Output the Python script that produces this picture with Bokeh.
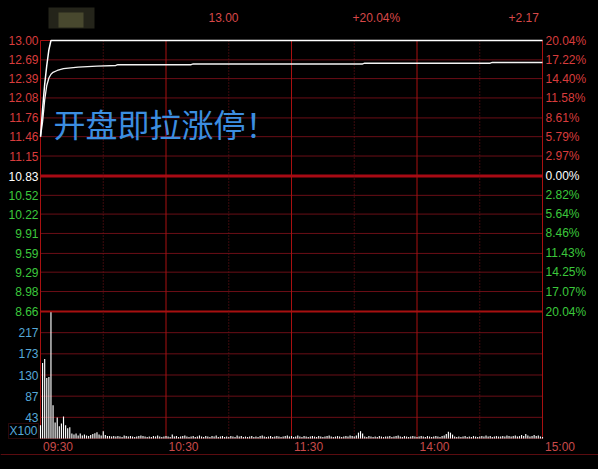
from bokeh.plotting import figure
from bokeh.models import Range1d, Span, BoxAnnotation, ColumnDataSource
from bokeh.core.properties import value
from bokeh.embed import file_html
from bokeh.resources import INLINE

# ---------------- data ----------------
prev_close = 10.83
price_ticks = [13.00, 12.69, 12.39, 12.08, 11.76, 11.46, 11.15, 10.83,
               10.52, 10.22, 9.91, 9.59, 9.29, 8.98, 8.66]
price_labels = ["13.00", "12.69", "12.39", "12.08", "11.76", "11.46", "11.15", "10.83",
                "10.52", "10.22", "9.91", "9.59", "9.29", "8.98", "8.66"]
pct_labels = ["20.04%", "17.22%", "14.40%", "11.58%", "8.61%", "5.79%", "2.97%", "0.00%",
              "2.82%", "5.64%", "8.46%", "11.43%", "14.25%", "17.07%", "20.04%"]
vol_ticks = [43.4, 86.8, 130.2, 173.6, 217.0]
vol_labels = ["43", "87", "130", "173", "217"]
vol_top = 260.4
vol_unit = "X100"
time_ticks = [0, 60, 120, 180, 240]
time_labels = ["09:30", "10:30", "11:30", "14:00", "15:00"]
minor_time = [30, 90, 150, 210]

price_min = [0, 1, 2, 3, 4, 5, 240]
price_val = [11.46, 11.90, 12.30, 12.60, 12.85, 13.00, 13.00]
avg_min = [0, 1, 2, 3, 4, 5, 6, 8, 11, 18, 27, 36, 37, 72, 73, 154, 155, 215, 216, 240]
avg_val = [11.46, 11.70, 12.05, 12.28, 12.40, 12.46, 12.49, 12.52, 12.55, 12.575,
           12.59, 12.600, 12.612, 12.612, 12.624, 12.624, 12.636, 12.636, 12.648, 12.648]

volume = [
    27, 155, 163, 124, 126, 259, 68, 33, 43, 25, 31, 45, 27, 21, 23, 10, 8, 10, 6, 10,
    6, 8, 6, 5, 7, 9, 11, 13, 8, 6, 15, 7, 5, 5, 4, 5, 4, 5, 4, 3,
    6, 5, 4, 5, 4, 3, 4, 5, 6, 5, 4, 3, 4, 3, 5, 4, 6, 4, 3, 4,
    5, 4, 3, 8, 4, 5, 3, 4, 5, 6, 4, 3, 4, 5, 3, 4, 6, 4, 3, 5,
    4, 3, 5, 4, 6, 3, 4, 5, 3, 4, 3, 5, 4, 3, 6, 4, 5, 3, 4, 3,
    4, 5, 3, 4, 3, 5, 6, 4, 3, 4, 5, 3, 4, 5, 4, 3, 4, 5, 6, 4,
    5, 3, 4, 6, 4, 3, 5, 4, 3, 4, 5, 4, 3, 5, 4, 3, 4, 5, 6, 4,
    3, 4, 5, 4, 3, 4, 5, 4, 6, 5, 4, 6, 12, 15, 10, 4, 3, 5, 4, 3,
    4, 3, 5, 4, 3, 4, 4, 5, 3, 4, 5, 6, 4, 3, 5, 4, 3, 4, 5, 4,
    3, 4, 5, 4, 3, 5, 4, 3, 4, 5, 4, 3, 5, 6, 9, 14, 12, 8, 4, 3,
    4, 3, 4, 5, 3, 4, 3, 5, 4, 3, 4, 5, 4, 6, 4, 5, 3, 4, 5, 4,
    4, 5, 4, 6, 5, 4, 5, 6, 4, 5, 7, 5, 9, 6, 4, 5, 7, 5, 6, 4, 3,
]
minutes = list(range(len(volume)))

header_texts = ["13.00", "+20.04%", "+2.17"]
caption = "开盘即拉涨停！"

# ---------------- layout (screen pixels of the page) ----------------
W, H = 598, 469
OFF = 0
L, R, T, SEP, B = 40, 542, 40, 311, 438
ppm = (R - L) / 240.0
x_start = -(L - OFF) / ppm
x_end = x_start + W / ppm
ppp = (SEP - T) / (price_ticks[0] - price_ticks[-1])
y_end = price_ticks[0] + (T - OFF) / ppp
y_start = y_end - H / ppp
ppv = (B - SEP) / vol_top
v_start = -(OFF + H - B) / ppv
v_end = v_start + H / ppv


def dx(sx):
    return x_start + (sx - OFF) / ppm


def dy(sy):
    return y_end - (sy - OFF) / ppp


RED_T = "#d83c3c"
GREEN_T = "#3cc83c"
CYAN_T = "#55a8d8"
GRID = "#6a0e16"
GRID_B = "#a81010"
FONT = value("Liberation Sans")

p = figure(width=W, height=H, x_range=Range1d(x_start, x_end), y_range=Range1d(y_start, y_end),
           toolbar_location=None, output_backend="svg", min_border=0,
           x_axis_location=None, y_axis_location=None)
p.extra_y_ranges = {"vol": Range1d(v_start, v_end)}
p.grid.visible = False
p.outline_line_color = None
p.background_fill_color = "black"
p.border_fill_color = "black"

t0, t1 = time_ticks[0], time_ticks[-1]

# horizontal grid lines, price panel
thin = [t for t in price_ticks if t not in (prev_close, price_ticks[0], price_ticks[-1])]
p.segment(x0=[t0] * len(thin), x1=[t1] * len(thin), y0=thin, y1=thin, line_color=GRID, line_width=1)
p.segment(x0=[t0], x1=[t1], y0=[price_ticks[0]], y1=[price_ticks[0]], line_color=GRID_B, line_width=1)
p.segment(x0=[t0], x1=[t1], y0=[prev_close], y1=[prev_close], line_color="#a80a14", line_width=3)
p.segment(x0=[t0], x1=[t1], y0=[price_ticks[-1]], y1=[price_ticks[-1]], line_color=GRID_B, line_width=2)

# horizontal grid lines, volume panel
p.segment(x0=[t0] * len(vol_ticks), x1=[t1] * len(vol_ticks), y0=vol_ticks, y1=vol_ticks,
          line_color=GRID, line_width=1, y_range_name="vol")
p.segment(x0=[t0], x1=[t1], y0=[0], y1=[0], line_color="#4a0a0e", line_width=1, y_range_name="vol")

# vertical lines (span both panels)
solid = [t0] + time_ticks[1:-1] + [t1]
p.segment(x0=solid, x1=solid, y0=[price_ticks[0]] * len(solid), y1=[dy(B)] * len(solid),
          line_color=GRID_B, line_width=1)
p.segment(x0=minor_time, x1=minor_time, y0=[price_ticks[0]] * len(minor_time),
          y1=[dy(B)] * len(minor_time), line_color="#7a1418", line_width=1, line_dash="1 2")

# bottom full-width line
p.add_layout(Span(location=dy(454), dimension="width", line_color="#5a0c10", line_width=1))

# volume bars
p.vbar(x=minutes, top=volume, bottom=0, width=0.55, fill_color="white", line_color=None,
       y_range_name="vol")

# average and price lines
p.line(avg_min, avg_val, line_color="#f4f4f4", line_width=1.3)
p.line(price_min, price_val, line_color="white", line_width=1.5)

# left price labels
lab_cols = [RED_T if v > prev_close else ("#ffffff" if v == prev_close else GREEN_T) for v in price_ticks]
src_l = ColumnDataSource(dict(x=[dx(38)] * len(price_ticks), y=price_ticks, t=price_labels, c=lab_cols))
p.text(x="x", y="y", text="t", text_color="c", source=src_l, text_font=FONT,
       text_font_size="12px", text_align="right", text_baseline="middle")

# right percentage labels
src_r = ColumnDataSource(dict(x=[dx(545)] * len(price_ticks), y=price_ticks, t=pct_labels, c=lab_cols))
p.text(x="x", y="y", text="t", text_color="c", source=src_r, text_font=FONT,
       text_font_size="12px", text_align="left", text_baseline="middle")

# volume labels
src_v = ColumnDataSource(dict(x=[dx(38)] * len(vol_ticks), y=vol_ticks, t=vol_labels))
p.text(x="x", y="y", text="t", text_color=CYAN_T, source=src_v, text_font=FONT,
       text_font_size="12px", text_align="right", text_baseline="middle", y_range_name="vol")
p.add_layout(BoxAnnotation(left=dx(8), right=dx(38), top=dy(423), bottom=dy(438),
                           fill_color=None, line_color="#8a1a20", line_width=1))
p.text(x=[dx(23)], y=[dy(430.5)], text=[vol_unit], text_color=CYAN_T, text_font=FONT,
       text_font_size="12px", text_align="center", text_baseline="middle")

# time labels
p.text(x=[t + 1.2 for t in time_ticks], y=[dy(446)] * len(time_ticks), text=time_labels,
       text_color="#c84a4a", text_font=FONT, text_font_size="12px",
       text_align="left", text_baseline="middle")

# header: blurred name and three values
p.add_layout(BoxAnnotation(left=dx(48), right=dx(94), top=dy(7), bottom=dy(28),
                           fill_color="#24241a", fill_alpha=1, line_color=None))
p.add_layout(BoxAnnotation(left=dx(58), right=dx(83), top=dy(12), bottom=dy(27),
                           fill_color="#48482e", fill_alpha=1, line_color=None))
p.text(x=[dx(208), dx(352), dx(508)], y=[dy(17)] * 3, text=header_texts, text_color="#d84848",
       text_font=FONT, text_font_size="12px", text_align="left", text_baseline="middle")

# caption
p.text(x=[dx(53)], y=[dy(122)], text=[caption], text_color="#3c8ee0",
       text_font=value("Noto Sans CJK SC"), text_font_size="32px",
       text_align="left", text_baseline="middle")

html = file_html(p, INLINE, title="intraday")
html = html.replace("<head>", "<head><style>html,body{background:#000;margin:0;padding:0;overflow:hidden;}</style>", 1)
open("out.html", "w").write(html)
